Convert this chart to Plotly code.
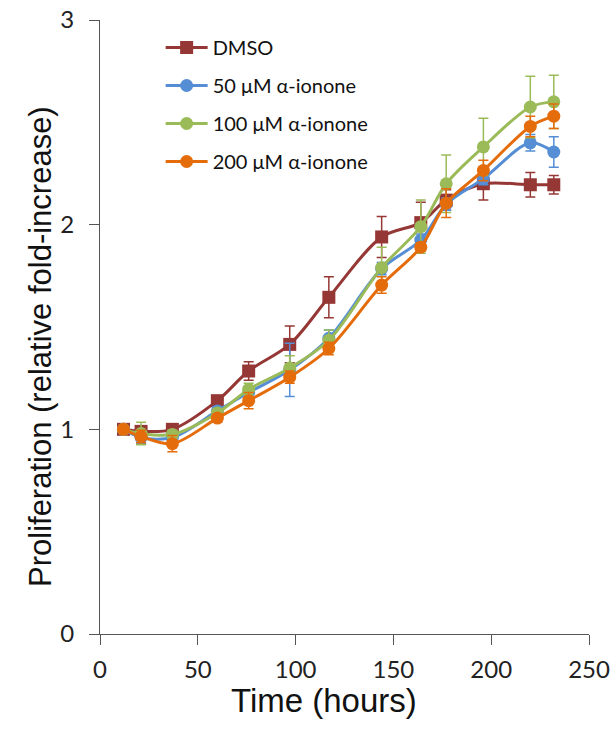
import plotly.graph_objects as go

time_h = [12, 21, 37, 60, 76, 97, 117, 144, 164, 177, 196, 220, 232]

dmso = [1.00, 0.99, 1.00, 1.14, 1.285, 1.415, 1.645, 1.94, 2.01, 2.12, 2.20, 2.195, 2.195]
dmso_err = [0.01, 0.02, 0.02, 0.02, 0.045, 0.09, 0.10, 0.10, 0.10, 0.05, 0.08, 0.06, 0.045]

a50 = [1.00, 0.96, 0.96, 1.09, 1.18, 1.29, 1.445, 1.785, 1.925, 2.10, 2.225, 2.40, 2.355]
a50_err = [0.01, 0.03, 0.02, 0.02, 0.03, 0.13, 0.04, 0.03, 0.03, 0.03, 0.03, 0.04, 0.075]

a100 = [1.00, 0.98, 0.975, 1.08, 1.195, 1.30, 1.435, 1.79, 1.99, 2.20, 2.38, 2.575, 2.60]
a100_err = [0.01, 0.055, 0.02, 0.02, 0.03, 0.06, 0.05, 0.10, 0.13, 0.14, 0.14, 0.15, 0.13]

a200 = [1.00, 0.965, 0.93, 1.055, 1.14, 1.255, 1.395, 1.705, 1.89, 2.105, 2.265, 2.48, 2.53]
a200_err = [0.01, 0.03, 0.04, 0.02, 0.04, 0.03, 0.03, 0.04, 0.02, 0.07, 0.05, 0.05, 0.06]

names = ["DMSO", "50 μM α-ionone", "100 μM α-ionone", "200 μM α-ionone"]
colors = ["#953735", "#558ED5", "#9BBB59", "#E46C0A"]
symbols = ["square", "circle", "circle", "circle"]
series = [(dmso, dmso_err), (a50, a50_err), (a100, a100_err), (a200, a200_err)]

x_title = "Time (hours)"
y_title = "Proliferation (relative fold-increase)"

fig = go.Figure()
for i, ((vals, errs), name, col, sym) in enumerate(zip(series, names, colors, symbols)):
    fig.add_trace(go.Scatter(
        x=time_h, y=vals, name=name, mode="lines+markers",
        legendgroup=f"g{i}",
        line=dict(color=col, width=3, shape="spline", smoothing=0.9),
        marker=dict(symbol=sym, size=13, color=col, line=dict(width=0)),
        error_y=dict(type="data", array=errs, visible=True, color=col,
                     thickness=1.5, width=5),
    ))

tick_font = dict(family="Lato, Open Sans, sans-serif", size=24, color="#222")
title_font = dict(family="Liberation Sans, Arial, sans-serif", color="#111")

fig.update_layout(
    width=613, height=732,
    margin=dict(l=100, r=24, t=20, b=98),
    paper_bgcolor="white", plot_bgcolor="white",
    showlegend=True,
    legend=dict(x=0.124, y=0.987, xanchor="left", yanchor="top",
                bgcolor="rgba(0,0,0,0)", tracegroupgap=9, itemwidth=42,
                font=dict(family="Lato, Open Sans, sans-serif", size=20, color="#111")),
    xaxis=dict(range=[0, 250], tickvals=[0, 50, 100, 150, 200, 250],
               automargin=False, ticklabeloverflow="allow",
               showgrid=False, zeroline=False, showline=True, linecolor="#555",
               linewidth=1.3, ticks="outside", ticklen=10, tickcolor="#555",
               ticklabelstandoff=4, tickfont=tick_font),
    yaxis=dict(range=[0, 3], tickvals=[0, 1, 2, 3],
               automargin=False, ticklabeloverflow="allow",
               showgrid=False, zeroline=False, showline=True, linecolor="#555",
               linewidth=1.3, ticks="outside", ticklen=10, tickcolor="#555",
               ticklabelstandoff=10, tickfont=tick_font),
    annotations=[
        dict(text=x_title, xref="paper", yref="paper", x=0.458, y=0,
             xanchor="center", yanchor="middle", yshift=-66, showarrow=False,
             font=dict(size=33, **title_font)),
        dict(text=y_title, xref="paper", yref="paper", x=0, y=0.5,
             xanchor="center", yanchor="middle", xshift=-60, yshift=-20,
             textangle=-90, showarrow=False,
             font=dict(size=31, **title_font)),
    ],
)

fig.write_html("out.html", config={"displayModeBar": False},
               post_script="document.body.style.margin='0px';document.body.style.overflow='hidden';")
